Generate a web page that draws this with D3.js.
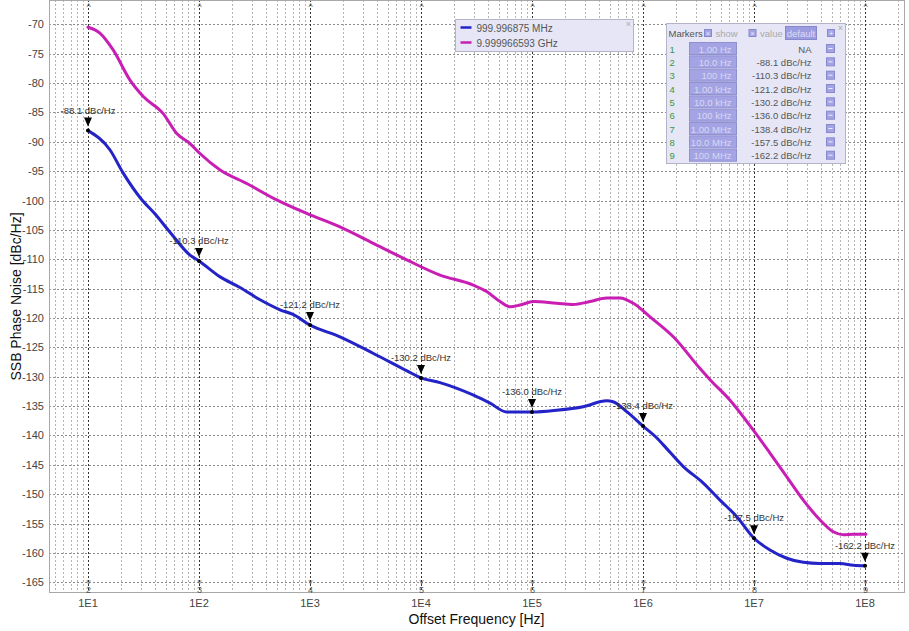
<!DOCTYPE html>
<html>
<head>
<meta charset="utf-8">
<script src="https://cdn.jsdelivr.net/npm/d3@7"></script>
<style>
  body { margin: 0; background: #fff; }
  text { font-family: "Liberation Sans", Arial, sans-serif; }
</style>
</head>
<body>
<div id="d3-container"></div>
<script>
/* CONSTANTS AND GLOBALS */
const width = 909, height = 631;
const plot = { left: 49, right: 904, top: 0, bottom: 593 };

/* DATA */
const seriesNames = ["999.996875 MHz", "9.999966593 GHz"];
const seriesColors = ["#2323c8", "#c81eb4"];

const blueFreq = [10, 15.8, 20.7, 30, 40.2, 54.8, 83, 100, 155, 234, 355, 537, 703, 1000,
  1862, 3698, 7482, 1e4, 14830, 29380, 41880, 59160, 1e5, 166700, 289700, 471000, 537000,
  712900, 1e6, 1.327e6, 1.524e6, 2.307e6, 3.49e6, 4.94e6, 6.98e6, 1e7, 1.393e7, 1.972e7,
  2.78e7, 3.94e7, 5.96e7, 7.85e7, 1e8];
const blueDb = [-88.1, -91.4, -95.3, -99.7, -102.3, -105.4, -109.3, -110.3, -113.0, -114.8,
  -116.9, -118.6, -119.4, -121.2, -123.2, -126.0, -129.0, -130.2, -131.0, -133.1, -134.5,
  -136.0, -136.0, -135.7, -135.1, -134.1, -134.25, -135.95, -138.4, -140.4, -141.6, -145.3,
  -148.1, -151.0, -153.8, -157.5, -159.5, -160.9, -161.6, -161.8, -161.8, -162.1, -162.2];

const magFreq = [10, 12.8, 16.9, 23.9, 31.5, 47.6, 63, 83, 102, 155, 269, 501, 933, 1862,
  3715, 7430, 14830, 29580, 39080, 51520, 63390, 78000, 102800, 166700, 235500, 333400,
  471000, 620900, 818500, 1.156e6, 1.875e6, 3.266e6, 4.018e6, 6.08e6, 9.86e6, 1.393e7,
  1.968e7, 2.78e7, 3.94e7, 5.18e7, 6.38e7, 7.85e7, 1.02e8];
const magDb = [-70.5, -71.5, -74.4, -79.5, -82.3, -85.2, -88.6, -90.3, -92.0, -94.8, -97.1,
  -99.9, -102.2, -104.5, -107.3, -110.1, -112.7, -114.4, -115.5, -117.2, -118.1, -117.8,
  -117.2, -117.5, -117.7, -117.2, -116.6, -116.6, -117.5, -119.8, -123.2, -128.6, -130.5,
  -134.0, -139.1, -143.0, -147.0, -151.0, -154.4, -156.4, -156.9, -156.8, -156.8];

const markerIds = [1, 2, 3, 4, 5, 6, 7, 8, 9];
const markerFreqs = [1, 10, 100, 1e3, 1e4, 1e5, 1e6, 1e7, 1e8];
const markerFreqLabels = ["1.00 Hz", "10.0 Hz", "100 Hz", "1.00 kHz", "10.0 kHz", "100 kHz",
  "1.00 MHz", "10.0 MHz", "100 MHz"];
const markerValues = [null, -88.1, -110.3, -121.2, -130.2, -136.0, -138.4, -157.5, -162.2];

const yTicks = [-70, -75, -80, -85, -90, -95, -100, -105, -110, -115, -120, -125, -130,
  -135, -140, -145, -150, -155, -160, -165];
const xDecades = [10, 100, 1e3, 1e4, 1e5, 1e6, 1e7, 1e8];
const xDecadeLabels = ["1E1", "1E2", "1E3", "1E4", "1E5", "1E6", "1E7", "1E8"];

/* SCALES */
const x = d3.scaleLog().domain([10, 1e8]).range([88, 865]);
const y = d3.scaleLinear().domain([-70, -165]).range([24.3, 582.3]);

const svg = d3.select("#d3-container").append("svg")
  .attr("width", width).attr("height", height);

svg.append("clipPath").attr("id", "clip").append("rect")
  .attr("x", plot.left).attr("y", plot.top)
  .attr("width", plot.right - plot.left).attr("height", plot.bottom - plot.top);

/* GRID */
const grid = svg.append("g").attr("clip-path", "url(#clip)");
const minorTicks = [];
[1, 10, 100, 1e3, 1e4, 1e5, 1e6, 1e7, 1e8].forEach(dec => {
  for (let m = 2; m <= 9; m++) minorTicks.push(dec * m);
});
grid.selectAll("line.minor").data(minorTicks).join("line")
  .attr("class", "minor")
  .attr("x1", d => Math.round(x(d)) + 0.5).attr("x2", d => Math.round(x(d)) + 0.5)
  .attr("y1", plot.top).attr("y2", plot.bottom)
  .attr("stroke", "#b4b4b4").attr("stroke-dasharray", "2,2");

grid.selectAll("line.h").data(yTicks).join("line")
  .attr("class", "h")
  .attr("x1", plot.left - 4).attr("x2", plot.right)
  .attr("y1", d => Math.round(y(d)) + 0.5).attr("y2", d => Math.round(y(d)) + 0.5)
  .attr("stroke", "#8c8c8c").attr("stroke-dasharray", "2,2");

// marker lines at decades (dark)
grid.selectAll("line.mk").data(xDecades).join("line")
  .attr("class", "mk")
  .attr("x1", d => Math.round(x(d)) + 0.5).attr("x2", d => Math.round(x(d)) + 0.5)
  .attr("y1", plot.top).attr("y2", plot.bottom)
  .attr("stroke", "#333").attr("stroke-dasharray", "2,2");

/* BORDER */
svg.append("rect")
  .attr("x", plot.left + 0.5).attr("y", plot.top + 0.5)
  .attr("width", plot.right - plot.left).attr("height", plot.bottom - plot.top - 1)
  .attr("fill", "none").attr("stroke", "#a8a8a8");

/* AXIS LABELS */
svg.append("g").selectAll("text").data(yTicks).join("text")
  .attr("x", 44).attr("y", d => y(d) + 4)
  .attr("text-anchor", "end").attr("font-size", 11).attr("fill", "#444")
  .text(d => d);

svg.append("g").selectAll("text").data(xDecades).join("text")
  .attr("x", d => x(d)).attr("y", 607)
  .attr("text-anchor", "middle").attr("font-size", 11).attr("fill", "#444")
  .text((d, i) => xDecadeLabels[i]);

svg.append("text")
  .attr("x", (plot.left + plot.right) / 2).attr("y", 624)
  .attr("text-anchor", "middle").attr("font-size", 14).attr("fill", "#111")
  .text("Offset Frequency [Hz]");

svg.append("text")
  .attr("transform", `translate(21,${(plot.top + plot.bottom) / 2}) rotate(-90)`)
  .attr("text-anchor", "middle").attr("font-size", 14).attr("fill", "#111")
  .text("SSB Phase Noise [dBc/Hz]");

/* MARKER CARETS + NUMBERS */
const inRange = markerIds.map((id, i) => ({ id, f: markerFreqs[i], v: markerValues[i] }))
  .filter(d => d.v !== null);

const carets = svg.append("g");
carets.selectAll("text.top").data(inRange).join("text")
  .attr("x", d => x(d.f) + 0.5).attr("y", 10)
  .attr("text-anchor", "middle").attr("font-size", 9).attr("fill", "#555")
  .text("^");
carets.selectAll("text.bot").data(inRange).join("text")
  .attr("x", d => x(d.f) + 0.5).attr("y", 584)
  .attr("text-anchor", "middle").attr("font-size", 8).attr("fill", "#555")
  .text("v");
carets.selectAll("text.num").data(inRange).join("text")
  .attr("x", d => x(d.f) + 0.5).attr("y", 593)
  .attr("text-anchor", "middle").attr("font-size", 9).attr("fill", "#555")
  .text(d => d.id);

/* LINES */
const line = d3.line()
  .x(d => x(d[0])).y(d => y(d[1]))
  .curve(d3.curveMonotoneX);

const lines = svg.append("g").attr("clip-path", "url(#clip)");
lines.append("path")
  .datum(magFreq.map((f, i) => [f, magDb[i]]))
  .attr("d", line).attr("fill", "none")
  .attr("stroke", seriesColors[1]).attr("stroke-width", 3)
  .attr("stroke-linejoin", "round").attr("stroke-linecap", "round");
lines.append("path")
  .datum(blueFreq.map((f, i) => [f, blueDb[i]]))
  .attr("d", line).attr("fill", "none")
  .attr("stroke", seriesColors[0]).attr("stroke-width", 3)
  .attr("stroke-linejoin", "round").attr("stroke-linecap", "round");

/* MARKERS ON TRACE */
const mk = svg.append("g");
mk.selectAll("path").data(inRange).join("path")
  .attr("transform", d => `translate(${x(d.f)},${y(d.v)})`)
  .attr("d", "M-4,-13L4,-13L0,-4Z").attr("fill", "#000");
mk.selectAll("circle").data(inRange).join("circle")
  .attr("cx", d => x(d.f)).attr("cy", d => y(d.v)).attr("r", 2).attr("fill", "#000");
mk.selectAll("text").data(inRange).join("text")
  .attr("x", d => x(d.f)).attr("y", d => y(d.v) - 17)
  .attr("text-anchor", "middle").attr("font-size", 9.5).attr("fill", "#333")
  .text(d => `${d.v.toFixed(1)} dBc/Hz`);

/* LEGEND */
const leg = svg.append("g").attr("transform", "translate(455.5,19.5)");
leg.append("rect").attr("width", 178).attr("height", 32)
  .attr("fill", "#e6e6f6").attr("stroke", "#b4b4c8");
leg.append("text").attr("x", 173).attr("y", 7).attr("font-size", 9)
  .attr("text-anchor", "middle").attr("fill", "#aaa").text("×");
seriesNames.forEach((name, i) => {
  leg.append("line").attr("x1", 5).attr("x2", 16)
    .attr("y1", 8 + i * 15).attr("y2", 8 + i * 15)
    .attr("stroke", seriesColors[i]).attr("stroke-width", 2.5);
  leg.append("text").attr("x", 21).attr("y", 12 + i * 15)
    .attr("font-size", 10).attr("fill", "#555").text(name);
});

/* MARKERS PANEL */
const fs = 9.5;
const panel = svg.append("g").attr("transform", "translate(666.5,23.5)");
panel.append("rect").attr("width", 179).attr("height", 140)
  .attr("fill", "#e6e6f6").attr("stroke", "#b4b4c8");
panel.append("text").attr("x", 174).attr("y", 7).attr("font-size", 9)
  .attr("text-anchor", "middle").attr("fill", "#aaa").text("×");
panel.append("text").attr("x", 2).attr("y", 13.5).attr("font-size", fs)
  .attr("fill", "#555").text("Markers");
[[38, "show"], [82.5, "value"]].forEach(([cx, label]) => {
  panel.append("rect").attr("x", cx).attr("y", 6).attr("width", 7).attr("height", 7)
    .attr("fill", "#a4a4e4").attr("stroke", "#8888cc");
  panel.append("text").attr("x", cx + 3.5).attr("y", 12.5).attr("font-size", 7)
    .attr("text-anchor", "middle").attr("fill", "#eef").text("×");
  panel.append("text").attr("x", cx + 11).attr("y", 13.5).attr("font-size", fs)
    .attr("fill", "#aaa").text(label);
});
panel.append("rect").attr("x", 119).attr("y", 3).attr("width", 31).attr("height", 13)
  .attr("fill", "#9c9ce0").attr("stroke", "#8888cc");
panel.append("text").attr("x", 134.5).attr("y", 13).attr("font-size", fs)
  .attr("text-anchor", "middle").attr("fill", "#dcdcf4").text("default");
panel.append("rect").attr("x", 161).attr("y", 6).attr("width", 7).attr("height", 7)
  .attr("fill", "#a4a4e4").attr("stroke", "#8888cc");
panel.append("text").attr("x", 164.5).attr("y", 12.5).attr("font-size", 8)
  .attr("text-anchor", "middle").attr("fill", "#eef").text("+");

const rowY = d3.scaleLinear().domain([1, 9]).range([25, 131.7]);
const rows = panel.selectAll("g.row").data(markerIds).join("g")
  .attr("class", "row")
  .attr("transform", d => `translate(0,${rowY(d)})`);
rows.append("text").attr("x", 3).attr("y", 4).attr("font-size", fs)
  .attr("fill", "#3a9a3a").text(d => d);
rows.append("rect").attr("x", 23).attr("y", -6).attr("width", 47).attr("height", 12)
  .attr("fill", "#a4a4e4").attr("stroke", "#9090d0");
rows.append("text").attr("x", 65).attr("y", 4).attr("font-size", fs)
  .attr("text-anchor", "end").attr("fill", "#d8d8f2")
  .text((d, i) => markerFreqLabels[i]);
rows.append("text").attr("x", 145).attr("y", 4).attr("font-size", fs)
  .attr("text-anchor", "end").attr("fill", "#555")
  .text((d, i) => markerValues[i] === null ? "NA" : `${markerValues[i].toFixed(1)} dBc/Hz`);
rows.append("rect").attr("x", 160).attr("y", -4).attr("width", 8).attr("height", 8)
  .attr("fill", "#a4a4e4").attr("stroke", "#8888cc");
rows.append("line").attr("x1", 162).attr("x2", 166).attr("y1", 0).attr("y2", 0)
  .attr("stroke", "#eef");
</script>
</body>
</html>
